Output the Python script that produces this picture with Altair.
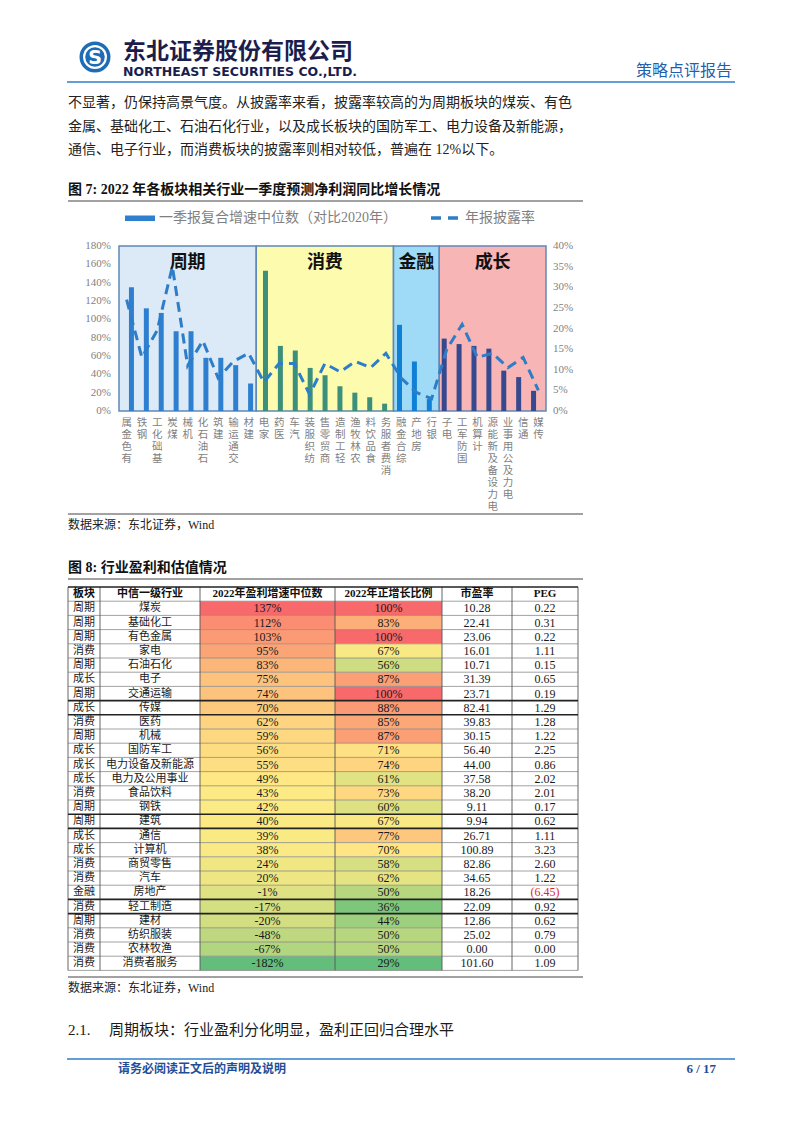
import altair as alt
import pandas as pd
import numpy as np

# ---------------- data : figure 7 ----------------
groups = ["周期", "消费", "金融", "成长"]
group_counts = [9, 9, 3, 7]
categories = ["有色金属", "钢铁", "基础化工", "煤炭", "机械", "石油石化", "建筑", "交通运输", "建材",
              "家电", "医药", "汽车", "纺织服装", "商贸零售", "轻工制造", "农林牧渔", "食品饮料", "消费者服务",
              "综合金融", "房地产", "银行",
              "电子", "国防军工", "计算机", "电力设备及新能源", "电力及公用事业", "通信", "传媒"]
growth_median = [135, 112, 107, 87, 87, 58, 58, 50, 30,
                 153, 71, 66, 47, 39, 27, 20, 15, 8,
                 94, 54, 13,
                 79, 73, 71, 68, 44, 37, 22]
disclosure_rate = [27, 13, 19.5, 35, 11, 17, 8, 12, 14,
                   7, 11.5, 11.5, 4, 11.5, 9.5, 12, 10.5, 14,
                   8, 4.5, 3,
                   15, 21, 13, 14, 10.5, 13, 5]
left_ticks = [0, 20, 40, 60, 80, 100, 120, 140, 160, 180]
right_ticks = [0, 5, 10, 15, 20, 25, 30, 35, 40]

# ---------------- data : figure 8 (table) ----------------
table_header = ["板块", "中信一级行业", "2022年盈利增速中位数", "2022年正增长比例", "市盈率", "PEG"]
table_sector = ["周期", "周期", "周期", "消费", "周期", "成长", "周期", "成长", "消费", "周期",
                "成长", "成长", "成长", "消费", "周期", "周期", "成长", "成长", "消费", "消费",
                "金融", "消费", "周期", "消费", "消费", "消费"]
table_industry = ["煤炭", "基础化工", "有色金属", "家电", "石油石化", "电子", "交通运输", "传媒", "医药", "机械",
                  "国防军工", "电力设备及新能源", "电力及公用事业", "食品饮料", "钢铁", "建筑", "通信", "计算机",
                  "商贸零售", "汽车", "房地产", "轻工制造", "建材", "纺织服装", "农林牧渔", "消费者服务"]
profit_growth = [137, 112, 103, 95, 83, 75, 74, 70, 62, 59, 56, 55, 49, 43, 42, 40, 39, 38,
                 24, 20, -1, -17, -20, -48, -67, -182]
positive_ratio = [100, 83, 100, 67, 56, 87, 100, 88, 85, 87, 71, 74, 61, 73, 60, 67, 77, 70,
                  58, 62, 50, 36, 44, 50, 50, 29]
pe_ratio = [10.28, 22.41, 23.06, 16.01, 10.71, 31.39, 23.71, 82.41, 39.83, 30.15, 56.40, 44.00, 37.58,
            38.20, 9.11, 9.94, 26.71, 100.89, 82.86, 34.65, 18.26, 22.09, 12.86, 25.02, 0.00, 101.60]
peg_ratio = [0.22, 0.31, 0.22, 1.11, 0.15, 0.65, 0.19, 1.29, 1.28, 1.22, 2.25, 0.86, 2.02, 2.01,
             0.17, 0.62, 1.11, 3.23, 2.60, 1.22, -6.45, 0.92, 0.62, 0.79, 0.00, 1.09]
emph_rows = ["传媒", "建筑", "轻工制造"]

# ---------------- layout helpers ----------------
OFF = 8


def P(v):
    return v - OFF


CJK = "Noto Sans CJK SC"
MIX = "Liberation Serif, Noto Sans CJK SC"
GRAY = "#7f7f7f"
layers = []


def text_layer(text, x, y, size, color="#000000", weight="normal", font=MIX, align="left", baseline="middle"):
    return alt.Chart(pd.DataFrame({"t": [text]})).mark_text(
        align=align, baseline=baseline, fontSize=size, color=color, fontWeight=weight, font=font
    ).encode(x=alt.value(P(x)), y=alt.value(P(y)), text="t:N")


def hrule(x1, x2, y, color, width, dash=None):
    kw = dict(color=color, strokeWidth=width)
    if dash:
        kw["strokeDash"] = dash
    return alt.Chart(pd.DataFrame({"a": [0]})).mark_rule(**kw).encode(
        x=alt.value(P(x1)), x2=alt.value(P(x2)), y=alt.value(P(y)))


def circle(x, y, r, color):
    return alt.Chart(pd.DataFrame({"a": [0]})).mark_circle(size=np.pi * r * r, color=color, opacity=1).encode(
        x=alt.value(P(x)), y=alt.value(P(y)))


# ---------------- page header ----------------
layers += [circle(95, 57, 17.5, "#1f6cb6"), circle(95, 57, 13.5, "#ffffff"), circle(95, 57, 11, "#1f6cb6")]
layers.append(text_layer("S", 95, 58, 19, "#ffffff", "bold", "DejaVu Sans", "center"))
layers.append(text_layer("东北证券股份有限公司", 123, 52, 23, "#1b1d4d", "bold", CJK))
layers.append(text_layer("NORTHEAST SECURITIES CO.,LTD.", 123, 72, 12.5, "#1b1d4d", "bold", "DejaVu Sans"))
layers.append(text_layer("策略点评报告", 636, 71, 16, "#1f5fb0", "normal", CJK))
layers.append(hrule(67, 735, 82, "#2f7fc8", 1.5))

# ---------------- paragraph ----------------
para = ["不显著，仍保持高景气度。从披露率来看，披露率较高的为周期板块的煤炭、有色",
        "金属、基础化工、石油石化行业，以及成长板块的国防军工、电力设备及新能源，",
        "通信、电子行业，而消费板块的披露率则相对较低，普遍在 12%以下。"]
for i, line in enumerate(para):
    layers.append(text_layer(line, 68, [103, 127, 150][i], 14, "#222222"))

# ---------------- figure 7 ----------------
layers.append(text_layer("图 7:  2022 年各板块相关行业一季度预测净利润同比增长情况", 68, 190, 14, "#111111", "bold"))
layers.append(hrule(68, 583, 201, "#444444", 1.2))

# legend
layers.append(alt.Chart(pd.DataFrame({"a": [0]})).mark_rect(color="#2f7fd0").encode(
    x=alt.value(P(125)), x2=alt.value(P(155)), y=alt.value(P(215.5)), y2=alt.value(P(221))))
layers.append(text_layer("一季报复合增速中位数（对比2020年）", 159, 218, 14, GRAY))
layers.append(hrule(431, 460, 218, "#2e7dc8", 3.5, [10, 7]))
layers.append(text_layer("年报披露率", 465, 218, 14, GRAY))

n = len(categories)
cat_group = sum([[g] * c for g, c in zip(groups, group_counts)], [])
bar_df = pd.DataFrame({"cat": categories, "pos": [i + 0.5 for i in range(n)],
                       "growth": growth_median, "rate": disclosure_rate, "group": cat_group})
starts = list(np.cumsum([0] + group_counts[:-1]))
ends = list(np.cumsum(group_counts))
reg_df = pd.DataFrame({"group": groups, "s": starts, "e": ends,
                       "mid": [(a + b) / 2 for a, b in zip(starts, ends)],
                       "top": [left_ticks[-1]] * 4, "bot": [0] * 4})

xs = alt.Scale(domain=[0, n], range=[P(119), P(546)], nice=False, zero=False)
ys_bar = alt.Scale(domain=[left_ticks[0], left_ticks[-1]], range=[P(411), P(246)], nice=False)
ys_line = alt.Scale(domain=[right_ticks[0], right_ticks[-1]], range=[P(411), P(246)], nice=False)

region_fill = ["#dce9f6", "#fdfbae", "#9fdbf6", "#f8b5b6"]
bar_colors = ["#2f7fd0", "#3c8f7b", "#0f80d6", "#36498e"]

layers.append(alt.Chart(reg_df).mark_rect(stroke="#5d88b8", strokeWidth=1.5).encode(
    x=alt.X("s:Q", scale=xs, axis=None), x2="e:Q",
    y=alt.Y("top:Q", scale=ys_bar, axis=None), y2="bot:Q",
    color=alt.Color("group:N", scale=alt.Scale(domain=groups, range=region_fill), legend=None)))
layers.append(alt.Chart(reg_df).mark_text(fontSize=18, fontWeight="bold", font=CJK, color="#111111",
                                          baseline="middle").encode(
    x=alt.X("mid:Q", scale=xs, axis=None), y=alt.value(P(263)), text="group:N"))
layers.append(alt.Chart(bar_df).mark_bar(orient="vertical", size=5).encode(
    x=alt.X("pos:Q", scale=xs, axis=None),
    y=alt.Y("growth:Q", scale=ys_bar, axis=None),
    color=alt.Color("group:N", scale=alt.Scale(domain=groups, range=bar_colors), legend=None)))
layers.append(alt.Chart(bar_df).mark_line(color="#2e7dc8", strokeWidth=3, strokeDash=[10, 6]).encode(
    x=alt.X("pos:Q", scale=xs, axis=None),
    y=alt.Y("rate:Q", scale=ys_line, axis=None)))

# axis labels
lt = pd.DataFrame({"v": left_ticks, "t": [f"{v}%" for v in left_ticks]})
rt = pd.DataFrame({"v": right_ticks, "t": [f"{v}%" for v in right_ticks]})
layers.append(alt.Chart(lt).mark_text(align="right", baseline="middle", fontSize=11, font="Liberation Serif",
                                      color=GRAY).encode(
    x=alt.value(P(111)), y=alt.Y("v:Q", scale=ys_bar, axis=None), text="t:N"))
layers.append(alt.Chart(rt).mark_text(align="left", baseline="middle", fontSize=11, font="Liberation Serif",
                                      color=GRAY).encode(
    x=alt.value(P(553)), y=alt.Y("v:Q", scale=ys_line, axis=None), text="t:N"))
layers.append(alt.Chart(bar_df).transform_calculate(lines="reverse(split(datum.cat, ''))").mark_text(
    align="center", baseline="top", fontSize=10.5, lineHeight=12, font=CJK, color=GRAY).encode(
    x=alt.X("pos:Q", scale=xs, axis=None), y=alt.value(P(418)), text="lines:N"))

layers.append(hrule(68, 583, 514, "#444444", 1))
layers.append(text_layer("数据来源：东北证券，Wind", 68, 525, 12, "#222222"))

# ---------------- figure 8 (table) ----------------
layers.append(text_layer("图 8:  行业盈利和估值情况", 68, 568, 14, "#111111", "bold"))
layers.append(hrule(68, 583, 579, "#444444", 1.2))

TX = [68, 100, 200, 335, 442, 512, 578]
nrows = len(table_industry) + 1
row_scale = alt.Scale(domain=[0, nrows], range=[P(587), P(970.4)], nice=False, zero=False)
rows = list(range(1, nrows))

prof_df = pd.DataFrame({"r0": rows, "r1": [r + 1 for r in rows], "v": profit_growth,
                        "x0": P(TX[2]), "x1": P(TX[3])})
ratio_df = pd.DataFrame({"r0": rows, "r1": [r + 1 for r in rows], "v": positive_ratio,
                         "x0": P(TX[3]), "x1": P(TX[4])})
for df, vals in ((prof_df, profit_growth), (ratio_df, positive_ratio)):
    layers.append(alt.Chart(df).mark_rect().encode(
        x=alt.X("x0:Q", scale=None), x2="x1:Q",
        y=alt.Y("r0:Q", scale=row_scale, axis=None), y2="r1:Q",
        color=alt.Color("v:Q", legend=None, scale=alt.Scale(
            domain=[min(vals), float(np.median(vals)), max(vals)],
            range=["#63BE7B", "#FFEB84", "#F8696B"], interpolate="rgb"))))

# grid lines
thick_rows = [0]
for name in emph_rows:
    k = table_industry.index(name) + 1
    thick_rows += [k, k + 1]
hl = pd.DataFrame({"r": list(range(nrows + 1))})
hl["thick"] = hl["r"].isin(thick_rows)
layers.append(alt.Chart(hl[~hl.thick]).mark_rule(color="#8a8a8a", strokeWidth=0.8).encode(
    x=alt.value(P(TX[0])), x2=alt.value(P(TX[-1])), y=alt.Y("r:Q", scale=row_scale, axis=None)))
vl = pd.DataFrame({"x": [P(v) for v in TX], "a": 0, "b": nrows})
layers.append(alt.Chart(vl).mark_rule(color="#555555", strokeWidth=0.9).encode(
    x=alt.X("x:Q", scale=None), y=alt.Y("a:Q", scale=row_scale, axis=None), y2="b:Q"))
layers.append(alt.Chart(hl[hl.thick]).mark_rule(color="#222222", strokeWidth=1.6).encode(
    x=alt.value(P(TX[0])), x2=alt.value(P(TX[-1])), y=alt.Y("r:Q", scale=row_scale, axis=None)))

# header
centers = [(TX[i] + TX[i + 1]) / 2 for i in range(6)]
hd = pd.DataFrame({"t": table_header, "x": [P(c) for c in centers], "r": 0.5})
layers.append(alt.Chart(hd).mark_text(fontSize=11, fontWeight="bold", font=MIX, color="#111111",
                                      baseline="middle").encode(
    x=alt.X("x:Q", scale=None), y=alt.Y("r:Q", scale=row_scale, axis=None), text="t:N"))

rc = [r + 0.5 for r in rows]
col_texts = [
    (table_sector, CJK, 11),
    (table_industry, CJK, 11),
    ([f"{v}%" for v in profit_growth], "Liberation Serif", 12),
    ([f"{v}%" for v in positive_ratio], "Liberation Serif", 12),
    ([f"{v:.2f}" for v in pe_ratio], "Liberation Serif", 12),
]
for ci, (vals, font, size) in enumerate(col_texts):
    df = pd.DataFrame({"t": vals, "r": rc})
    layers.append(alt.Chart(df).mark_text(fontSize=size, font=font, color="#1a1a1a", baseline="middle").encode(
        x=alt.value(P(centers[ci])), y=alt.Y("r:Q", scale=row_scale, axis=None), text="t:N"))
peg_df = pd.DataFrame({"t": [f"({abs(v):.2f})" if v < 0 else f"{v:.2f}" for v in peg_ratio], "r": rc,
                       "c": ["#e0262b" if v < 0 else "#1a1a1a" for v in peg_ratio]})
layers.append(alt.Chart(peg_df).mark_text(fontSize=12, font="Liberation Serif", baseline="middle").encode(
    x=alt.value(P(centers[5])), y=alt.Y("r:Q", scale=row_scale, axis=None), text="t:N",
    color=alt.Color("c:N", scale=None)))

layers.append(hrule(68, 583, 977, "#444444", 1))
layers.append(text_layer("数据来源：东北证券，Wind", 68, 988, 12, "#222222"))

# ---------------- section heading & footer ----------------
layers.append(text_layer("2.1.", 68, 1030, 15, "#1a1a1a"))
layers.append(text_layer("周期板块：行业盈利分化明显，盈利正回归合理水平", 109, 1030, 15, "#1a1a1a"))
layers.append(hrule(67, 735, 1059, "#2f7fc8", 1.5))
layers.append(text_layer("请务必阅读正文后的声明及说明", 118, 1069, 12, "#1f4e99", "bold", CJK))
layers.append(text_layer("6 / 17", 716, 1069, 13, "#1f4e99", "bold", "Liberation Serif", "right"))

chart = alt.layer(*layers).resolve_scale(
    x="independent", y="independent", color="independent"
).properties(
    width=786, height=1117, padding=0, autosize="none", background="white"
).configure_view(stroke="transparent")

chart.save("out.html", embed_options={"renderer": "svg", "actions": False})
